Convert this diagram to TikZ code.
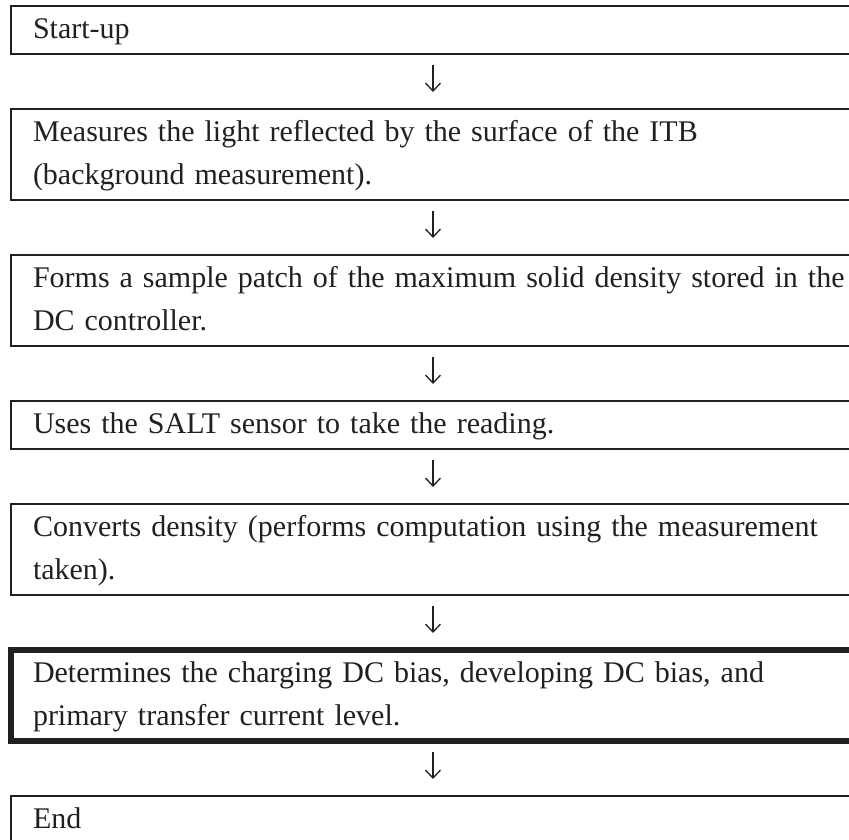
\documentclass[tikz,border=0pt]{standalone}
\usepackage{fontspec}
\setmainfont{Liberation Serif}
\usetikzlibrary{arrows.meta,positioning}
\definecolor{inkgray}{RGB}{35,31,32}

\begin{document}
\begin{tikzpicture}[
    stepbox/.style={draw=inkgray, line width=1.6pt, text=inkgray, text width=800pt,
        inner xsep=22pt, inner ysep=2.5pt, outer sep=0pt, align=left,
        font=\fontsize{30}{43}\selectfont},
    keybox/.style={stepbox, line width=6.5pt},
    flow/.style={-{Straight Barb[length=8pt,width=15pt]}, line width=1.3pt, inkgray,
        shorten <=11pt, shorten >=17pt},
    node distance=55pt]
    \useasboundingbox (0,0) rectangle (849pt,-840pt);
    \clip (0,0) rectangle (849pt,-840pt);

    % Steps
    \node [stepbox, anchor=north] (start) at (433pt,-6pt) {\strut Start-up};
    \node [stepbox, below=of start] (backgr) {\strut Measures the light reflected by the surface of the ITB\\(background measurement).\strut};
    \node [stepbox, below=of backgr] (patch) {\strut\mbox{Forms a sample patch of the maximum solid density stored in the}\\DC controller.\strut};
    \node [stepbox, below=of patch] (sensor) {\strut Uses the SALT sensor to take the reading.};
    \node [stepbox, below=of sensor] (convert) {\strut\mbox{Converts density (performs computation using the measurement}\\taken).\strut};
    \node [keybox, below=of convert] (bias) {\strut Determines the charging DC bias, developing DC bias, and\\primary transfer current level.\strut};
    \node [stepbox, below=of bias] (finish) {\strut End};

    % Arrows
    \draw [flow] (start) -- (backgr);
    \draw [flow] (backgr) -- (patch);
    \draw [flow] (patch) -- (sensor);
    \draw [flow] (sensor) -- (convert);
    \draw [flow] (convert) -- (bias);
    \draw [flow] (bias) -- (finish);
\end{tikzpicture}
\end{document}
